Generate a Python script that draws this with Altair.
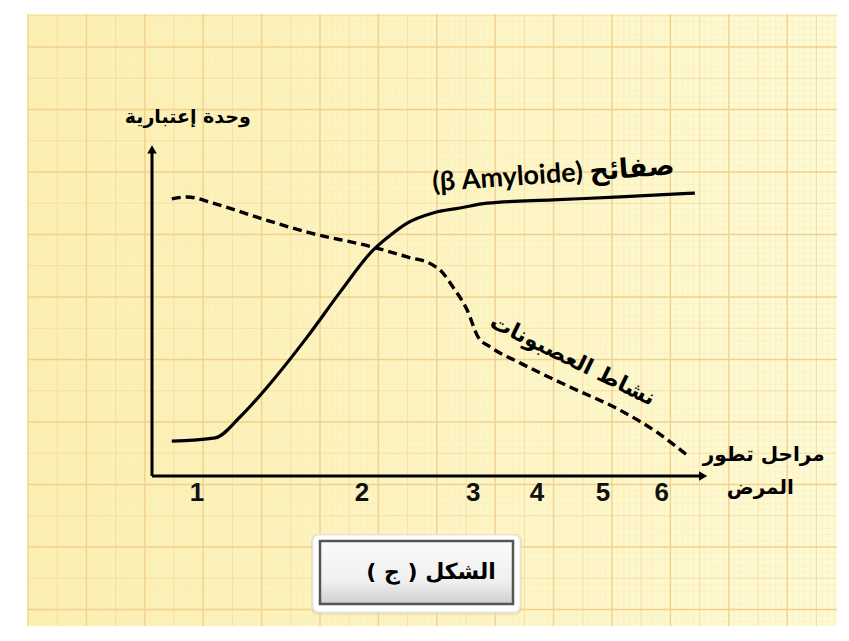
import altair as alt
import pandas as pd

# ---------------- data ----------------
# x: disease progression (arbitrary units, 0..10); y: arbitrary units (0..100)
amy_x = [0.36, 1.15, 1.6, 2.2, 2.82, 3.42, 4.02, 4.27, 4.64, 5.11, 5.6, 6.09, 7.29, 8.51, 9.87]
amy_y = [10.7, 11.7, 18.1, 29.4, 42.6, 56.4, 69.3, 73.0, 77.6, 80.7, 82.2, 83.7, 84.7, 85.6, 86.8]

neu_x = [0.36, 0.64, 1.11, 1.91, 2.82, 4.02, 4.64, 5.11, 5.27, 5.47, 5.73, 5.93, 6.15, 6.69, 7.6, 8.51, 9.2, 9.73]
neu_y = [85.0, 85.6, 83.7, 79.4, 74.8, 70.2, 67.2, 64.7, 62.6, 58.0, 50.9, 42.6, 39.6, 34.7, 27.3, 20.2, 13.2, 6.4]

stage_labels = ["1", "2", "3", "4", "5", "6"]
stage_pos = [0.82, 3.82, 5.84, 7.0, 8.2, 9.27]

y_title = "وحدة إعتبارية"
amy_label = "(β Amyloide) صفائح"
neu_label = "نشاط العصبونات"
x_title_1 = "مراحل تطور"
x_title_2 = "المرض"
fig_caption = "الشكل ( ج )\u200f"

# ---------------- layout ----------------
W, H = 833, 618
XS = alt.Scale(domain=[0, 10], range=[144, 694], nice=False, zero=False)
YS = alt.Scale(domain=[0, 100], range=[468, 142], nice=False, zero=False)

ARABIC = "DejaVu Sans"
one = pd.DataFrame({"a": [0]})

# background paper
paper = alt.Chart(one).mark_rect(
    fill=alt.LinearGradient(
        gradient="linear",
        stops=[alt.GradientStop(color="#fcefb0", offset=0),
               alt.GradientStop(color="#fdf5c4", offset=0.55),
               alt.GradientStop(color="#fefad4", offset=1)],
        x1=0, x2=1, y1=0, y2=0),
).encode(x=alt.value(20), x2=alt.value(829), y=alt.value(6), y2=alt.value(628))

# graph paper grid (decoration)
v_fine, v_mid, v_major = [], [], []
for j in range(0, 139):
    px = 20 + j * 29.2 / 5
    if px > 829:
        break
    if j % 10 == 0:
        v_major.append(px)
    elif j % 5 == 0:
        v_mid.append(px)
    else:
        v_fine.append(px)
h_fine, h_mid, h_major = [], [], []
for j in range(0, 100):
    py = 7.75 + j * 31.25 / 5
    if py > 628:
        break
    if j % 5 == 0:
        if (j // 5) % 2 == 1:
            h_major.append(py)
        else:
            h_mid.append(py)
    else:
        h_fine.append(py)


def vgrid(vals, color, w):
    return alt.Chart(pd.DataFrame({"px": vals})).mark_rule(color=color, strokeWidth=w).encode(
        x=alt.X("px:Q", scale=None), y=alt.value(6), y2=alt.value(628))


def hgrid(vals, color, w):
    return alt.Chart(pd.DataFrame({"py": vals})).mark_rule(color=color, strokeWidth=w).encode(
        y=alt.Y("py:Q", scale=None), x=alt.value(20), x2=alt.value(829))


grid = [
    vgrid(v_fine, "#f8edbd", 0.5), hgrid(h_fine, "#f8edbd", 0.5),
    vgrid(v_mid, "#f5dea6", 1.0), hgrid(h_mid, "#f5dea6", 1.0),
    vgrid(v_major, "#f1d08e", 1.4), hgrid(h_major, "#f1d08e", 1.4),
]

# axes
axes_df = pd.DataFrame({"x": [0, 0], "y": [0, 0], "x2": [10, 0], "y2": [0, 100]})
axes = alt.Chart(axes_df).mark_rule(color="black", strokeWidth=3).encode(
    x=alt.X("x:Q", scale=XS, axis=None), y=alt.Y("y:Q", scale=YS, axis=None),
    x2="x2:Q", y2="y2:Q")

arrow_df = pd.DataFrame({"x": [10.02, 0], "y": [0, 100.2], "shape": ["triangle-right", "triangle-up"]})
arrows = alt.Chart(arrow_df).mark_point(filled=True, color="black", opacity=1, size=90).encode(
    x=alt.X("x:Q", scale=XS, axis=None), y=alt.Y("y:Q", scale=YS, axis=None),
    shape=alt.Shape("shape:N", scale=None))

# curves
amy = alt.Chart(pd.DataFrame({"x": amy_x, "y": amy_y})).mark_line(
    color="black", strokeWidth=3.2, interpolate="monotone").encode(
    x=alt.X("x:Q", scale=XS, axis=None), y=alt.Y("y:Q", scale=YS, axis=None))

neu = alt.Chart(pd.DataFrame({"x": neu_x, "y": neu_y})).mark_line(
    color="black", strokeWidth=3.4, strokeDash=[9, 5], interpolate="monotone").encode(
    x=alt.X("x:Q", scale=XS, axis=None), y=alt.Y("y:Q", scale=YS, axis=None))

# stage tick labels
ticks = alt.Chart(pd.DataFrame({"x": stage_pos, "y": [0] * 6, "t": stage_labels})).mark_text(
    font="Liberation Sans", fontWeight="bold", fontSize=26, baseline="middle", dy=17, color="#111").encode(
    x=alt.X("x:Q", scale=XS, axis=None), y=alt.Y("y:Q", scale=YS, axis=None), text="t:N")


def label(x, y, text, size, font=ARABIC, angle=0, align="center"):
    df = pd.DataFrame({"x": [x], "y": [y], "t": [text]})
    kw = dict(font=font, fontWeight="bold", fontSize=size, baseline="middle", align=align)
    if angle:
        kw["angle"] = angle
    enc = dict(x=alt.X("x:Q", scale=XS, axis=None), y=alt.Y("y:Q", scale=YS, axis=None), text="t:N")
    return alt.Chart(df).mark_text(color="black", **kw).encode(**enc)


labels = [
    label(0.65, 110.1, y_title, 19),
    label(7.3, 92.4, amy_label, 27, font="Lato, DejaVu Sans", angle=356),
    label(7.65, 35.6, neu_label, 22, angle=26),
    label(11.12, 6.4, x_title_1, 20),
    label(11.06, -3.7, x_title_2, 20),
]

# caption box (decoration)
box_shadow = alt.Chart(one).mark_rect(fill="#d9d4b0", opacity=0.5, cornerRadius=7).encode(
    x=alt.value(303), x2=alt.value(514), y=alt.value(526), y2=alt.value(607))
box_outer = alt.Chart(one).mark_rect(fill="white", stroke="#e6e6e6", strokeWidth=1, cornerRadius=6).encode(
    x=alt.value(305), x2=alt.value(512), y=alt.value(527), y2=alt.value(604))
box_inner = alt.Chart(one).mark_rect(
    fill=alt.LinearGradient(
        gradient="linear",
        stops=[alt.GradientStop(color="#fbfbfb", offset=0),
               alt.GradientStop(color="#efefef", offset=0.65),
               alt.GradientStop(color="#cfcfcf", offset=1)],
        x1=0, x2=0, y1=0, y2=1),
    stroke="#555555", strokeWidth=2.5).encode(
    x=alt.value(312), x2=alt.value(505), y=alt.value(533), y2=alt.value(596))
box_text = alt.Chart(pd.DataFrame({"t": [fig_caption]})).mark_text(
    font=ARABIC, fontWeight="bold", fontSize=22, color="black", baseline="middle", align="center").encode(
    x=alt.value(423), y=alt.value(564), text="t:N")

chart = alt.layer(
    paper, *grid, axes, arrows, amy, neu, ticks, *labels, box_shadow, box_outer, box_inner, box_text
).properties(
    width=W, height=H, autosize=alt.AutoSizeParams(type="none"), padding=0, background="white"
).configure_view(stroke=None)

chart.save("out.html", embed_options={"renderer": "svg", "actions": False})
